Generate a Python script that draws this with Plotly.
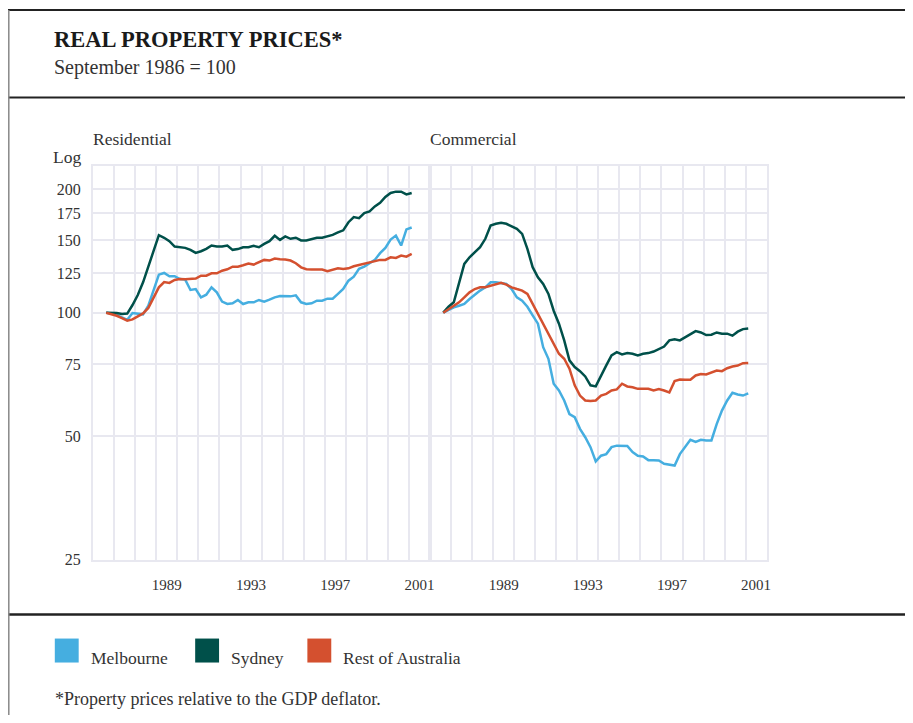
import plotly.graph_objects as go
import math

# Quarterly observations, September 1986 to March 2001 (decimal year)
quarters = [1986.625 + 0.25 * i for i in range(59)]

res_melbourne = [100, 99.6, 98.7, 97.4, 96.1, 99.8, 99.3, 99.1, 104.0, 114.2,
                 123.8, 125.0, 122.7, 122.7, 120.8, 120.4, 113.6, 114.2, 109.0, 110.6,
                 115.3, 112.1, 106.4, 105.0, 105.4, 107.4, 105.0, 106.0, 106.0, 107.4,
                 106.4, 107.6, 109.0, 109.8, 109.8, 109.6, 110.2, 106.0, 105.0, 105.4,
                 107.0, 107.0, 108.2, 108.2, 111.1, 114.2, 119.7, 122.4, 127.9, 129.5,
                 132.0, 134.5, 139.7, 143.9, 150.8, 154.2, 145.8, 159.6, 161.3]
res_sydney = [100, 100, 99.8, 99.3, 99.5, 104.4, 110.4, 118.6, 129.0, 141.7,
              154.5, 152.3, 149.4, 145.0, 144.4, 143.9, 142.3, 139.9, 141.2, 143.1,
              145.8, 145.0, 145.0, 145.8, 142.3, 142.9, 144.4, 144.4, 145.5, 144.4,
              147.1, 149.4, 154.0, 150.5, 153.4, 151.4, 152.3, 150.0, 150.0, 151.1,
              152.3, 152.3, 153.4, 154.8, 156.9, 158.8, 166.2, 171.0, 170.0, 174.9,
              176.6, 181.6, 185.3, 191.6, 195.8, 197.3, 197.3, 194.3, 195.8]
res_rest = [100, 99.3, 98.3, 97.0, 95.6, 96.3, 97.9, 99.6, 102.7, 109.0,
            115.3, 118.8, 118.2, 120.2, 120.8, 120.6, 120.8, 121.1, 123.1, 123.1,
            124.7, 124.7, 126.6, 127.6, 129.5, 129.5, 130.5, 131.7, 131.0, 132.5,
            134.5, 134.0, 135.5, 135.0, 134.8, 134.0, 132.0, 129.0, 127.6, 127.4,
            127.4, 127.4, 126.2, 127.4, 128.3, 127.8, 128.3, 129.8, 130.8, 132.0,
            132.7, 133.7, 134.5, 134.5, 136.5, 136.0, 137.8, 137.0, 139.1]

com_melbourne = [100, 101.5, 103.0, 104.0, 105.0, 108.0, 110.6, 113.2, 115.3, 118.6,
                 118.6, 118.2, 117.5, 114.2, 109.0, 107.0, 103.4, 98.5, 94.0, 82.4,
                 77.2, 67.1, 64.6, 61.1, 56.6, 55.6, 52.1, 49.7, 47.0, 43.4,
                 44.8, 45.2, 47.0, 47.4, 47.3, 47.3, 45.7, 44.8, 44.6, 43.7,
                 43.7, 43.6, 42.8, 42.6, 42.4, 45.2, 47.0, 49.0, 48.4, 49.0,
                 48.8, 48.8, 53.5, 57.7, 61.1, 63.8, 63.2, 62.8, 63.6]
com_sydney = [100, 103.4, 106.0, 117.5, 131.5, 136.5, 140.4, 144.4, 151.4, 163.2,
              164.7, 165.7, 164.7, 162.2, 160.1, 155.7, 143.1, 129.1, 122.0, 117.5,
              111.1, 101.1, 94.0, 85.6, 76.5, 73.7, 72.0, 69.9, 66.5, 66.1,
              70.3, 74.4, 78.7, 80.1, 79.1, 79.7, 79.4, 78.7, 79.4, 79.7,
              80.4, 81.7, 82.7, 85.6, 86.1, 85.6, 87.2, 88.9, 90.2, 89.5,
              88.2, 88.4, 89.5, 88.9, 88.9, 87.9, 89.9, 91.2, 91.5]
com_rest = [100, 102.1, 104.0, 106.0, 109.0, 112.1, 114.2, 115.3, 115.3, 116.4,
            117.5, 118.2, 117.1, 115.3, 114.2, 113.2, 111.1, 105.0, 99.4, 94.0,
            88.9, 84.0, 79.4, 77.2, 73.0, 66.5, 62.8, 61.1, 60.9, 61.1,
            62.8, 63.4, 64.6, 65.0, 67.1, 66.1, 65.8, 65.2, 65.3, 65.2,
            64.6, 65.1, 64.6, 63.9, 68.1, 68.7, 68.6, 68.6, 70.3, 70.9,
            70.7, 71.5, 72.3, 72.0, 73.2, 73.9, 74.3, 75.3, 75.4]

y_ticks = [25, 50, 75, 100, 125, 150, 175, 200]
x_tick_years = [1989, 1993, 1997, 2001]
series_names = ["Melbourne", "Sydney", "Rest of Australia"]
series_colors = ["#45aee0", "#00504a", "#d4502f"]

# The page body has an 8px margin; the figure starts at (8, 8).
OFF = 8
W, H = 913 - OFF, 723 - 2 * OFF
H_EFF = 698.5  # measured effective drawing height on the page
FONT = "Liberation Serif"
GRID = "#e8e8f0"
TXT = "#333333"

def px(x):
    return (x - OFF) / W

def py(y):
    return 1 - (y - OFF) / H_EFF

fig = go.Figure()

res_data = [res_melbourne, res_sydney, res_rest]
com_data = [com_melbourne, com_sydney, com_rest]
for name, col, vals in zip(series_names, series_colors, res_data):
    fig.add_trace(go.Scatter(x=quarters, y=vals, mode="lines", name=name,
                             line=dict(color=col, width=2.5), showlegend=False,
                             xaxis="x", yaxis="y"))
for name, col, vals in zip(series_names, series_colors, com_data):
    fig.add_trace(go.Scatter(x=quarters, y=vals, mode="lines", name=name,
                             line=dict(color=col, width=2.5), showlegend=False,
                             xaxis="x2", yaxis="y"))

xcommon = dict(
    range=[1986, 2002],
    tickmode="array",
    tickvals=[yr + 0.5 for yr in x_tick_years],
    ticktext=[str(yr) for yr in x_tick_years],
    showgrid=False,
    zeroline=False,
    ticks="outside", ticklen=10, tickcolor="rgba(0,0,0,0)",
    tickfont=dict(family=FONT, size=15, color=TXT),
    minor=dict(tickmode="linear", tick0=1986, dtick=1, showgrid=True,
               gridcolor=GRID, gridwidth=2, ticks=""),
    showline=True, linecolor=GRID, linewidth=2, mirror=True,
    fixedrange=True,
)

y_lo, y_hi = 25, 228
top_px, bot_px = 166, 560

fig.update_layout(
    width=W, height=H,
    margin=dict(l=0, r=0, t=0, b=0),
    paper_bgcolor="white", plot_bgcolor="white",
    xaxis=dict(domain=[px(93.4), px(432)], anchor="y", **xcommon),
    xaxis2=dict(domain=[px(432), px(770)], anchor="y", **xcommon),
    yaxis=dict(
        type="log", range=[math.log10(y_lo), math.log10(y_hi)],
        domain=[py(bot_px), py(top_px)],
        tickmode="array", tickvals=y_ticks, ticktext=[str(v) for v in y_ticks],
        showgrid=True, gridcolor=GRID, gridwidth=2, zeroline=False,
        ticks="outside", ticklen=7, tickcolor="rgba(0,0,0,0)",
        tickfont=dict(family=FONT, size=16, color=TXT),
        showline=True, linecolor=GRID, linewidth=2, mirror="all",
        fixedrange=True,
    ),
    showlegend=False,
)

shapes = []
# frame lines
shapes.append(dict(type="line", xref="paper", yref="paper", x0=px(8), x1=1, y0=py(10), y1=py(10),
                   line=dict(color="#222222", width=2)))
shapes.append(dict(type="line", xref="paper", yref="paper", x0=px(8), x1=1, y0=py(97.5), y1=py(97.5),
                   line=dict(color="#222222", width=2)))
shapes.append(dict(type="line", xref="paper", yref="paper", x0=px(8), x1=1, y0=py(615), y1=py(615),
                   line=dict(color="#222222", width=2.5)))
shapes.append(dict(type="line", xref="paper", yref="paper", x0=px(8.8), x1=px(8.8), y0=py(10), y1=py(723),
                   line=dict(color="#888888", width=1.5)))

annotations = []
def text(s, x, y, size, bold=False, color=TXT, xanchor="left", yanchor="middle"):
    annotations.append(dict(text=("<b>%s</b>" % s) if bold else s, x=px(x), y=py(y),
                            xref="paper", yref="paper", showarrow=False,
                            xanchor=xanchor, yanchor=yanchor,
                            font=dict(family=FONT, size=size, color=color)))

text("REAL PROPERTY PRICES*", 52, 40, 22.5, bold=True, color="#1a1a1a")
text("September 1986 = 100", 52, 68, 20)
text("Residential", 91, 139, 17.5)
text("Commercial", 430, 139, 17.5)
text("Log", 51, 157, 17.5)

legend_x = [55, 196, 308.7]
for name, col, lx in zip(series_names, series_colors, legend_x):
    shapes.append(dict(type="rect", xref="paper", yref="paper",
                       x0=px(lx), x1=px(lx + 24), y0=py(663), y1=py(639),
                       fillcolor=col, line=dict(width=0)))
    text(name, lx + 34, 658, 17.5)

text("*Property prices relative to the GDP deflator.", 53, 699, 18)

fig.update_layout(shapes=shapes, annotations=annotations)
fig.write_html("out.html")
